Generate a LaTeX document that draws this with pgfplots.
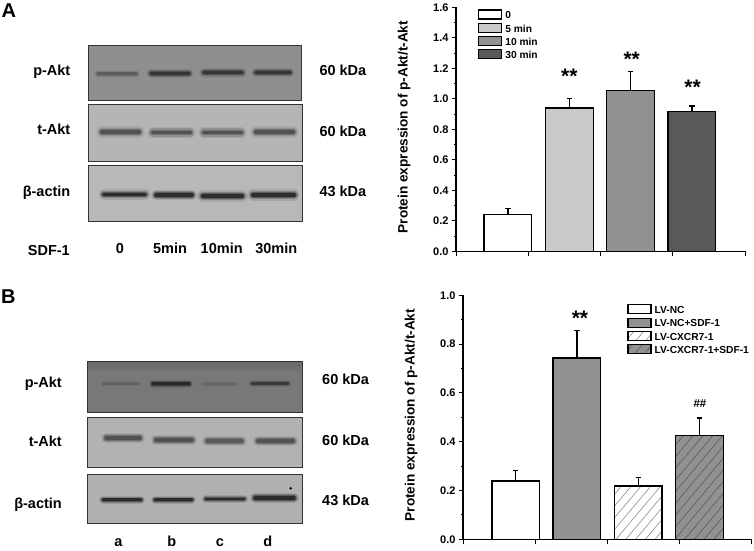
\documentclass[border=0pt]{standalone}
\usepackage{fontspec}
\usepackage{pgfplots}
\pgfplotsset{compat=1.18}
\usetikzlibrary{patterns.meta}
\setmainfont{Liberation Sans}

% soft western blot band, drawn in the pixel axis: x1, x2, y, colour, thickness
\newcommand{\band}[5]{%
  \addplot[draw=#4,line width=3*#5 pt,opacity=.1,line cap=round] coordinates {(#1,#3) (#2,#3)};
  \addplot[draw=#4,line width=2.2*#5 pt,opacity=.2,line cap=round] coordinates {(#1,#3) (#2,#3)};
  \addplot[draw=#4,line width=1.5*#5 pt,opacity=.3,line cap=round] coordinates {(#1,#3) (#2,#3)};
  \addplot[draw=#4,line width=#5 pt,opacity=.5,line cap=round] coordinates {(#1,#3) (#2,#3)};
}
% membrane panel: x1, x2, y1, y2, grey
\newcommand{\blot}[5]{%
  \addplot[fill=#5,draw=black!80,line width=1pt] coordinates {(#1,#3) (#2,#3) (#2,#4) (#1,#4)} --cycle;
}
\definecolor{gA}{gray}{0.56}
\definecolor{gB}{gray}{0.71}
\definecolor{gC}{gray}{0.72}
\definecolor{gD}{gray}{0.47}
\definecolor{gE}{gray}{0.70}
\definecolor{gF}{gray}{0.69}
\definecolor{barL}{gray}{0.79}
\definecolor{barM}{gray}{0.57}
\definecolor{barD}{gray}{0.35}

\tikzset{
  star/.style={font=\fontsize{21}{21}\selectfont\bfseries,anchor=base,inner sep=0pt},
  lab/.style={font=\fontsize{14.5}{16}\selectfont\bfseries,text height=.72em,text depth=0pt,inner sep=0pt},
}
\pgfplotsset{
  barchart/.style={
    scale only axis,
    width=289pt,height=244pt,
    axis x line=bottom,axis y line=left,
    axis line style={-,line width=1.1pt},
    tick style={line width=1pt,black},
    tick align=outside,
    major tick length=4.5pt,minor tick length=2.5pt,
    minor y tick num=1,
    xticklabels={},
    ymin=0,
    ytick distance=0.2,
    tick label style={font=\fontsize{11}{12}\selectfont\bfseries},
    /pgf/number format/assume math mode=true,
    /pgf/number format/fixed,
    /pgf/number format/fixed zerofill,
    /pgf/number format/precision=1,
    yticklabel style={xshift=0.5pt},
    every axis y label/.style={at={(axis description cs:-0.18,0.509)},rotate=90,anchor=center,
      font=\fontsize{13.6}{15}\selectfont\bfseries},
    ybar,bar shift=0pt,bar width=47.7pt,
    clip=false,
    area legend,
    legend image code/.code={\draw[#1,line width=1.2pt] (0pt,-3pt) rectangle (23pt,6pt);},
    legend cell align=left,
    legend style={draw=none,fill=none,inner sep=0pt,row sep=1.4pt,
      /tikz/column 1/.style={column sep=3pt},
      font=\fontsize{10.2}{12}\selectfont\bfseries,
      nodes={inner sep=0pt,text height=8pt,text depth=2.5pt}},
  },
  barline/.style={draw=black,line width=1.3pt,
    /pgfplots/error bars/y dir=plus,
    /pgfplots/error bars/y explicit,
    /pgfplots/error bars/error bar style={line width=1.2pt,black},
    /pgfplots/error bars/error mark options={rotate=90,mark size=2.6pt,line width=1.2pt,black}},
}

\begin{document}
\begin{tikzpicture}[x=1pt,y=1pt]
\useasboundingbox (0,0) rectangle (754,550);

% blots and their labels, in picture pixels
\begin{axis}[
  at={(0pt,0pt)},anchor=south west,scale only axis,width=754pt,height=550pt,
  xmin=0,xmax=754,ymin=0,ymax=550,y dir=reverse,hide axis,clip=false]
  \blot{88.3}{301.7}{45.7}{100}{gA}
  \band{98}{136}{73.8}{black!70}{2.8}
  \band{151}{189}{73.3}{black!90}{3}
  \band{204}{242}{72.8}{black!90}{3.2}
  \band{256}{290}{72.6}{black!90}{3}

  \blot{88.3}{302.5}{104.7}{161}{gB}
  \band{102}{139}{132}{black!80}{3.8}
  \band{153}{190}{132.5}{black!80}{3.8}
  \band{204}{241}{132.5}{black!80}{3.8}
  \band{256}{293}{132}{black!80}{3.8}

  \blot{88.3}{302.5}{165.7}{221.7}{gC}
  \band{104}{145}{194.5}{black}{3.6}
  \band{156}{192}{195}{black}{3.4}
  \band{203}{242}{196}{black}{4}
  \band{253}{294}{195}{black}{3.8}

  \blot{87.3}{302}{361}{412.3}{gD}
  \addplot[draw=black,line width=10pt,opacity=.05] coordinates {(88,366) (301,366)};
  \addplot[draw=black,line width=6pt,opacity=.05] coordinates {(88,364) (301,364)};
  \band{103}{138}{383.7}{black!65}{1.8}
  \band{153}{189}{383.7}{black!95}{2.8}
  \band{203}{236}{384}{black!62}{1.8}
  \band{252}{288}{383.5}{black!85}{2.4}

  \blot{87.3}{302}{417}{467.7}{gE}
  \band{106}{140}{438}{black!80}{3.4}
  \band{156}{192}{440}{black!80}{3.6}
  \band{207}{242}{441}{black!75}{3.4}
  \band{258}{293}{441}{black!80}{3.6}

  \blot{87.3}{302}{474.3}{523.7}{gF}
  \band{103}{141}{499.7}{black}{2.6}
  \band{155}{192}{499.7}{black}{2.6}
  \band{206}{244}{499}{black}{2.8}
  \band{255}{294}{498}{black}{3.4}
  \addplot[only marks,mark=*,mark size=1pt,black] coordinates {(290.7,488.3)};

  \node[font=\fontsize{20}{22}\selectfont\bfseries,anchor=west,inner sep=0pt,text height=.72em,text depth=0pt] at (axis cs:1.5,14) {A};
  \node[font=\fontsize{20}{22}\selectfont\bfseries,anchor=west,inner sep=0pt,text height=.72em,text depth=0pt] at (axis cs:1,300) {B};

  \node[lab,anchor=east] at (axis cs:70.5,71.7) {p-Akt};
  \node[lab,anchor=east] at (axis cs:70.5,130.7) {t-Akt};
  \node[lab,anchor=east] at (axis cs:70.5,193.3) {β-actin};
  \node[lab,anchor=east] at (axis cs:70,252) {SDF-1};
  \node[lab] at (axis cs:120,250) {0};
  \node[lab] at (axis cs:170,250) {5min};
  \node[lab] at (axis cs:221.7,250) {10min};
  \node[lab] at (axis cs:276.3,250) {30min};
  \node[lab,anchor=west] at (axis cs:319.3,71.7) {60 kDa};
  \node[lab,anchor=west] at (axis cs:319.3,132.7) {60 kDa};
  \node[lab,anchor=west] at (axis cs:319.3,193.3) {43 kDa};

  \node[lab,anchor=east] at (axis cs:62,384) {p-Akt};
  \node[lab,anchor=east] at (axis cs:62,443) {t-Akt};
  \node[lab,anchor=east] at (axis cs:62,505) {β-actin};
  \node[lab,anchor=west] at (axis cs:322,380.7) {60 kDa};
  \node[lab,anchor=west] at (axis cs:322,441.7) {60 kDa};
  \node[lab,anchor=west] at (axis cs:322,502.3) {43 kDa};
  \node[lab] at (axis cs:118.3,543) {a};
  \node[lab] at (axis cs:171.7,543) {b};
  \node[lab] at (axis cs:220,543) {c};
  \node[lab] at (axis cs:267.7,543) {d};
\end{axis}

% panel A bars
\begin{axis}[barchart,
  at={(456pt,298.7pt)},anchor=south west,
  xmin=0.152,xmax=4.866,ymax=1.6,
  xtick={0.152,1.3305,2.509,3.6875,4.866},
  ylabel={Protein expression of p-Akt/t-Akt},
  legend style={at={(0.076,0.992)},anchor=north west}]
  \addplot[barline,fill=white] coordinates {(1,0.24) +- (0,0.042)};
  \addplot[barline,fill=barL] coordinates {(2,0.94) +- (0,0.06)};
  \addplot[barline,fill=barM] coordinates {(3,1.053) +- (0,0.125)};
  \addplot[barline,fill=barD] coordinates {(4,0.918) +- (0,0.035)};
  \legend{0,5 min,10 min,30 min}
  \node[star] at (axis cs:2,1.099) {**};
  \node[star] at (axis cs:3.018,1.212) {**};
  \node[star] at (axis cs:4.01,1.028) {**};
\end{axis}

% panel B bars
\begin{axis}[barchart,
  at={(463pt,10.7pt)},anchor=south west,width=288.7pt,
  xmin=0.139,xmax=4.856,ymax=1.0,
  xtick={0.139,1.318,2.4975,3.677,4.856},
  ylabel={Protein expression of p-Akt/t-Akt},
  legend style={at={(0.569,0.964)},anchor=north west}]
  \addplot[barline,fill=white] coordinates {(1,0.239) +- (0,0.042)};
  \addplot[barline,fill=barM] coordinates {(2,0.743) +- (0,0.114)};
  \addplot[barline,fill=white,postaction={pattern={Lines[angle=50,distance=7.5pt,line width=.6pt]},pattern color=black!45}] coordinates {(3,0.219) +- (0,0.034)};
  \addplot[barline,fill=barM,postaction={pattern={Lines[angle=50,distance=7.5pt,line width=.6pt]},pattern color=black!65}] coordinates {(4,0.425) +- (0,0.072)};
  \legend{LV-NC,LV-NC+SDF-1,LV-CXCR7-1,LV-CXCR7-1+SDF-1}
  \node[star] at (axis cs:2.05,0.878) {**};
  \node[font=\fontsize{11.5}{12}\selectfont\bfseries,inner sep=0pt,text height=.72em,text depth=0pt] at (axis cs:4.01,0.556) {\#\#};
\end{axis}
\end{tikzpicture}
\end{document}
